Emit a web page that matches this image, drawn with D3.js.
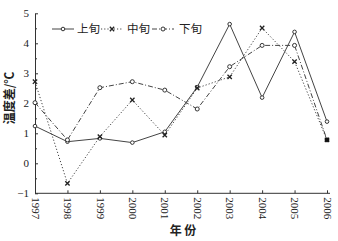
<html>
<head>
<meta charset="utf-8">
<script src="https://d3js.org/d3.v7.min.js"></script>
<style>
body {margin:0; background:#fff;}
.tick text {font-family: "Liberation Serif", serif; font-size: 11px; fill:#222;}
.domain, .tick line {stroke:#333;}
</style>
</head>
<body>
<svg width="338" height="241"></svg>
<script>
var years = [1997,1998,1999,2000,2001,2002,2003,2004,2005,2006];
var early = [1.24,0.72,0.83,0.69,1.05,2.54,4.64,2.19,4.38,1.39];
var middle = [2.72,-0.67,0.89,2.11,0.94,2.51,2.88,4.51,3.39,0.78];
var late = [2.02,0.78,2.52,2.72,2.44,1.81,3.22,3.93,3.93,0.78];
var names = ["上旬","中旬","下旬"];
var yTicks = [-1,0,1,2,3,4,5];

var svg = d3.select("svg");
var x = d3.scalePoint().domain(years).range([35,327]);
var y = d3.scaleLinear().domain([-1,5]).range([193.3,13.3]);

// y axis, ticks pointing inward, minor ticks at .5
svg.append("g").attr("transform","translate(35,0)")
  .call(d3.axisRight(y).tickValues(d3.range(-0.5,5,1)).tickSize(2).tickFormat(""))
  .call(function(g){g.select(".domain").remove();});
var ya = svg.append("g").attr("transform","translate(35,0)")
  .call(d3.axisLeft(y).tickValues(yTicks).tickSizeInner(-3).tickSizeOuter(0)
    .tickPadding(6).tickFormat(d3.format("d")));
ya.selectAll(".tick text").attr("font-size",12);

// x axis
var xa = svg.append("g").attr("transform","translate(0,193.3)")
  .call(d3.axisBottom(x).tickSizeInner(-3).tickSizeOuter(0).tickFormat(d3.format("d")));
xa.select(".domain").attr("d","M35,0H330");
xa.selectAll(".tick text")
  .attr("transform","rotate(90)")
  .attr("text-anchor","start")
  .attr("x",4).attr("y",0).attr("dy","0.35em");

var series = [
  {name:names[0], vals:early, dash:null, mark:"dot"},
  {name:names[1], vals:middle, dash:"1.2,2", mark:"x"},
  {name:names[2], vals:late, dash:"5,2,1,2", mark:"circle"}
];

var line = d3.line().x(function(d,i){return x(years[i]);}).y(function(d){return y(d);});

function drawMark(g, m, cx, cy){
  if (m == "dot") {
    g.append("circle").attr("cx",cx).attr("cy",cy).attr("r",1.8)
      .attr("fill","#fff").attr("stroke","#333").attr("stroke-width",1);
  } else if (m == "x") {
    g.append("path").attr("d",d3.symbol().type(d3.symbolX).size(14)())
      .attr("transform","translate("+cx+","+cy+")")
      .attr("stroke","#222").attr("stroke-width",1.3).attr("fill","none");
  } else {
    g.append("circle").attr("cx",cx).attr("cy",cy).attr("r",2)
      .attr("fill","#fff").attr("stroke","#333").attr("stroke-width",1);
  }
}

series.forEach(function(s){
  svg.append("path").datum(s.vals).attr("d",line)
    .attr("fill","none").attr("stroke","#444").attr("stroke-width",1)
    .attr("stroke-dasharray",s.dash);
  var g = svg.append("g");
  s.vals.forEach(function(v,i){ drawMark(g, s.mark, x(years[i]), y(v)); });
});
// filled end marker at 2006
svg.append("rect").attr("x",x(2006)-2).attr("y",y(middle[9])-2)
  .attr("width",4).attr("height",4).attr("fill","#111");

// legend
var lx = [52,101,152], tx = [77,127,179], ly = 29;
series.forEach(function(s,i){
  svg.append("line").attr("x1",lx[i]).attr("x2",lx[i]+22).attr("y1",ly).attr("y2",ly)
    .attr("stroke","#444").attr("stroke-width",1).attr("stroke-dasharray",s.dash);
  drawMark(svg, s.mark, lx[i]+11, ly);
  svg.append("text").attr("x",tx[i]).attr("y",ly).attr("dy","0.35em")
    .attr("font-family","Noto Sans CJK SC").attr("font-size",11.5).attr("fill","#222")
    .text(s.name);
});

// axis titles
svg.append("text").attr("x",183).attr("y",231).attr("dy","0.35em")
  .attr("text-anchor","middle").attr("font-family","Noto Sans CJK SC")
  .attr("font-size",12).attr("font-weight","bold").attr("fill","#222").text("年 份");
svg.append("text").attr("transform","translate(10,98) rotate(-90)")
  .attr("text-anchor","middle").attr("dy","0.35em").attr("font-family","Noto Sans CJK SC")
  .attr("font-size",12).attr("font-weight","bold").attr("fill","#222").text("温度差/℃");
</script>
</body>
</html>
